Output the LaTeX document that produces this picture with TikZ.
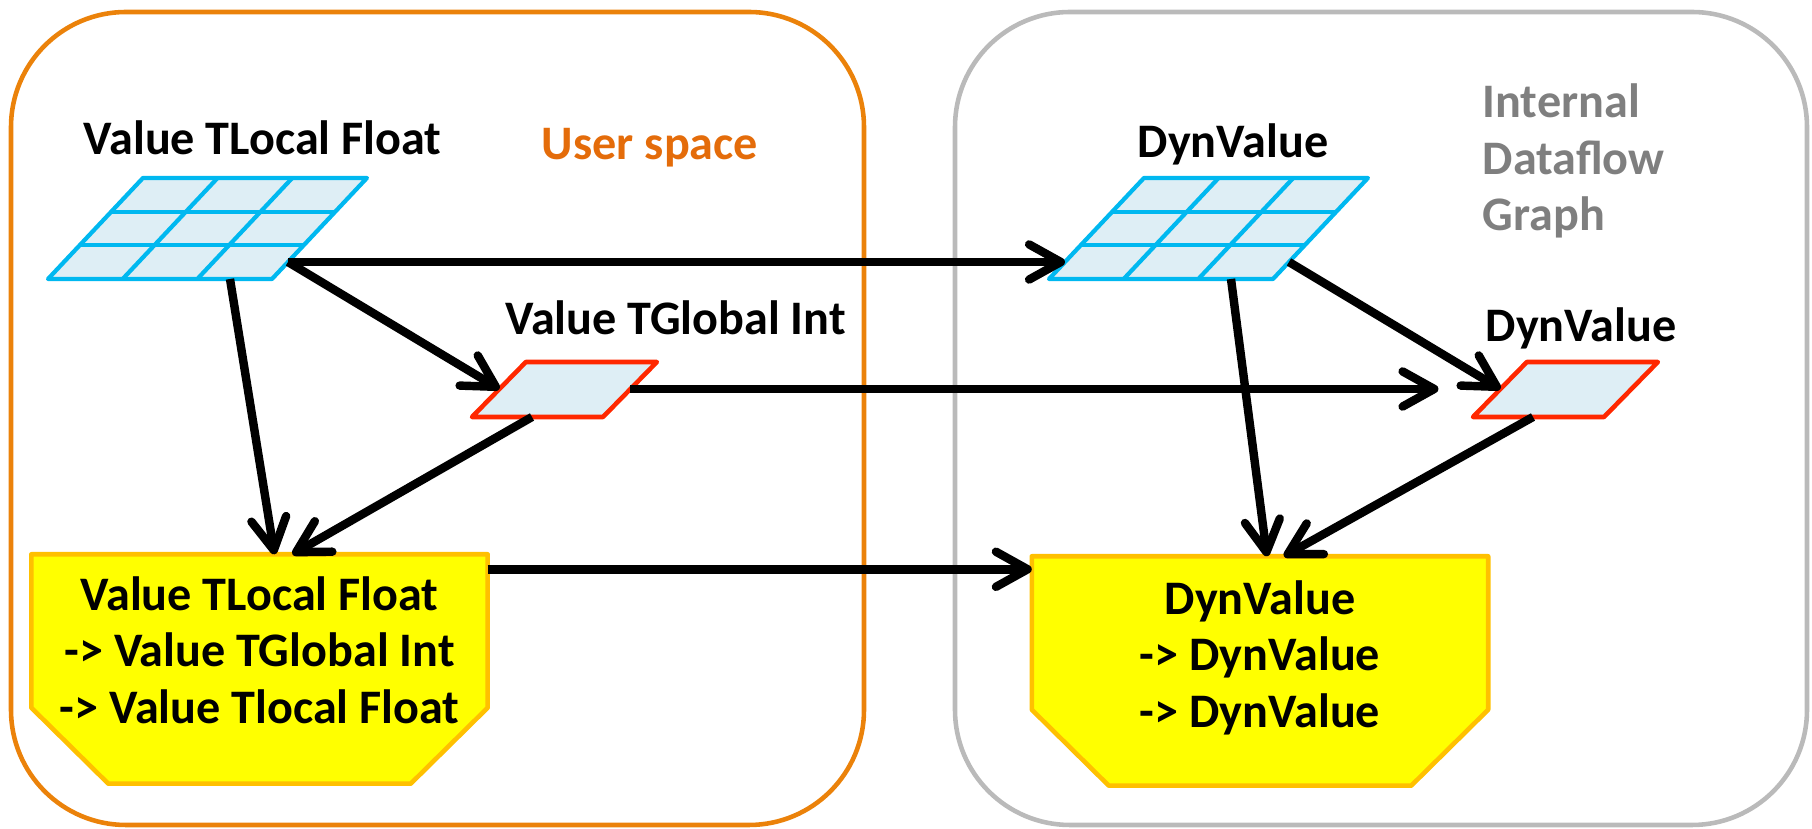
\documentclass[tikz,border=0pt]{standalone}
\usepackage{fontspec}
\setmainfont{Carlito}
\usetikzlibrary{arrows.meta,calc}

\definecolor{userorange}{RGB}{235,130,10}
\definecolor{usertext}{RGB}{228,108,10}
\definecolor{graphgray}{RGB}{186,186,186}
\definecolor{graphtext}{RGB}{127,127,127}
\definecolor{cellblue}{RGB}{0,184,240}
\definecolor{cellfill}{RGB}{222,238,245}
\definecolor{scalarred}{RGB}{255,40,0}
\definecolor{fnyellow}{RGB}{255,255,0}
\definecolor{fnborder}{RGB}{255,192,0}

\tikzset{
  panel/.style={line width=1.3pt,rounded corners=1.15cm},
  lbl/.style={font=\bfseries\fontsize{13.7}{16.1}\selectfont,inner sep=0pt},
  cell/.style={draw=cellblue,fill=cellfill,line width=1.2pt,line join=round},
  cellline/.style={draw=cellblue,line width=1.2pt},
  scalar/.style={draw=scalarred,fill=cellfill,line width=1.3pt,line join=round},
  fnbox/.style={minimum width=4.55cm,minimum height=2.28cm,inner sep=0pt},
  fnshape/.style={draw=fnborder,fill=fnyellow,line width=1.3pt,line join=round},
  flow/.style={line width=2.4pt,-{Straight Barb[length=9pt,width=10pt,round]}}
}

\begin{document}
\begin{tikzpicture}
\useasboundingbox (0,0) rectangle (18.12,8.29);
% the two spaces
\draw[panel,userorange] (0.11,0.04) rectangle (8.64,8.17);
\draw[panel,graphgray] (9.55,0.04) rectangle (18.07,8.17);
\node[lbl,usertext,anchor=base] (userlbl) at (6.50,6.69) {User space};
\node[lbl,graphtext,align=left,anchor=west] (graphlbl) at (14.82,6.68) {Internal\\Dataflow\\Graph};

% 3x3 tensors
\foreach \gx/\gn in {0.48/g1,10.49/g2}{
\begin{scope}[shift={(\gx,5.50)},xslant=0.94]
\draw[cell] (0,0) rectangle (2.24,1.01);
\foreach \i in {1,2}{
  \draw[cellline] (\i*0.7467,0) -- (\i*0.7467,1.01);
  \draw[cellline] (0,\i*0.3367) -- (2.24,\i*0.3367);
}
\coordinate (\gn-e) at (2.24,0.17);
\coordinate (\gn-w) at (0,0.17);
\coordinate (\gn-s) at (1.82,0);
\end{scope}
}

% scalars
\foreach \px/\pn in {4.72/r1,14.73/r2}{
\begin{scope}[shift={(\px,4.12)},xslant=0.98]
\draw[scalar] (0,0) rectangle (1.31,0.55);
\coordinate (\pn-e) at (1.31,0.28);
\coordinate (\pn-w) at (0,0.28);
\coordinate (\pn-s) at (0.60,0);
\end{scope}
}

\node[lbl,anchor=base] (g1lbl) at (2.625,6.74) {Value TLocal Float};
\node[lbl,anchor=base] (g2lbl) at (12.33,6.71) {DynValue};
\node[lbl,anchor=base] (r1lbl) at (6.755,4.94) {Value TGlobal Int};
\node[lbl,anchor=base] (r2lbl) at (15.81,4.87) {DynValue};

% functions
\node[fnbox] (f1) at (2.595,1.60) {};
\node[fnbox] (f2) at (12.60,1.58) {};
\foreach \f in {f1,f2}
  \draw[fnshape] (\f.north west) -- (\f.north east) -- ($(\f.south east)+(0,0.76)$)
    -- ($(\f.south east)+(-0.77,0)$) -- ($(\f.south west)+(0.77,0)$)
    -- ($(\f.south west)+(0,0.76)$) -- cycle;
\node[lbl,align=center] (f1txt) at (2.595,1.79) {Value TLocal Float\\-> Value TGlobal Int\\-> Value Tlocal Float};
\node[lbl,align=center] (f2txt) at (12.60,1.715) {DynValue\\-> DynValue\\-> DynValue};

\draw[flow] (g1-e) -- (g2-w);
\draw[flow] (g1-e) -- (r1-w);
\draw[flow] (g1-s) -- ($(f1.north)+(0.15,0)$);
\draw[flow] (r1-s) -- ($(f1.north)+(0.33,0)$);
\draw[flow,shorten >=0.62cm] (r1-e) -- (r2-w);
\draw[flow] (g2-e) -- (r2-w);
\draw[flow] (g2-s) -- ($(f2.north)+(0.07,0)$);
\draw[flow] (r2-s) -- ($(f2.north)+(0.24,0)$);
\draw[flow] ($(f1.north east)+(0,-0.15)$) -- ($(f1.north east -| f2.west)+(0,-0.15)$);
\end{tikzpicture}
\end{document}
